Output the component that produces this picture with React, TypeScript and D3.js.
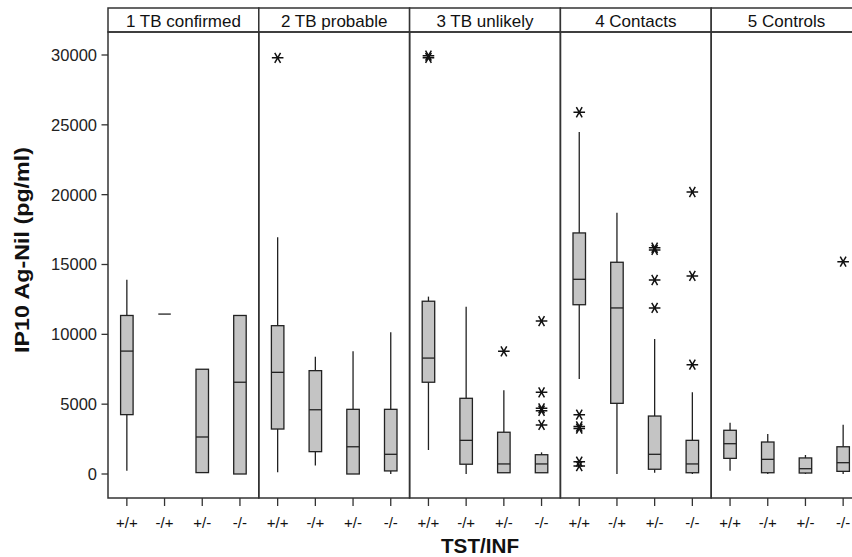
import React from "react";
import * as d3 from "d3";

const groups = ["1 TB confirmed", "2 TB probable", "3 TB unlikely", "4 Contacts", "5 Controls"];
const categories = ["+/+", "-/+", "+/-", "-/-"];
const yTicks = [0, 5000, 10000, 15000, 20000, 25000, 30000];

// per group (row) and category (column)
const whiskerLow = [
  [240, 11450, 100, 0],
  [120, 600, 0, 0],
  [1720, 0, 90, 90],
  [6800, 0, 90, 0],
  [240, 0, 0, 0],
];
const q1Values = [
  [4250, 11450, 100, 0],
  [3220, 1600, 0, 220],
  [6570, 700, 90, 90],
  [12120, 5060, 340, 90],
  [1120, 90, 70, 190],
];
const medianValues = [
  [8800, 11450, 2650, 6570],
  [7280, 4600, 1950, 1410],
  [8300, 2410, 720, 720],
  [13940, 11890, 1410, 720],
  [2170, 1050, 380, 810],
];
const q3Values = [
  [11350, 11450, 7500, 11350],
  [10620, 7400, 4630, 4630],
  [12370, 5420, 2990, 1380],
  [17260, 15160, 4150, 2410],
  [3130, 2290, 1150, 1950],
];
const whiskerHigh = [
  [13900, 11450, 7500, 11350],
  [16950, 8400, 8780, 10150],
  [12700, 11980, 5990, 1550],
  [24490, 18710, 9670, 5850],
  [3670, 2860, 1360, 3530],
];
const outliers: number[][][] = [
  [[], [], [], []],
  [[29800], [], [], []],
  [[29800, 29950], [], [8780], [10950, 5850, 4700, 4530, 3510]],
  [[25900, 4250, 3400, 3250, 880, 570], [], [16200, 16040, 13890, 11890], [20190, 14180, 7830]],
  [[], [], [], [15200]],
];

const W = 852;
const H = 557;
const LEFT = 108;
const RIGHT = 862;
const TOP = 8;
const STRIP = 32;
const BOTTOM = 498;
const FONT = "'Liberation Sans', Arial, sans-serif";

function starPath(r: number) {
  const a = Math.PI / 3;
  let d = "";
  for (let k = 0; k < 3; k++) {
    const ang = k * a;
    const dx = r * Math.cos(ang);
    const dy = r * Math.sin(ang);
    d += `M${-dx},${-dy}L${dx},${dy}`;
  }
  return d;
}

export default function App() {
  const y = d3.scaleLinear().domain([0, 30000]).range([474, 55]);
  const gx = d3.scaleBand<string>().domain(groups).range([LEFT, RIGHT]).padding(0);
  const cx = d3.scaleBand<string>().domain(categories).range([0, gx.bandwidth()]).padding(0);
  const boxW = 12.5;
  const star = starPath(5.8);

  return (
    <svg
      width={W}
      height={H}
      style={{ position: "absolute", left: 0, top: 0, background: "#fff" }}
      fontFamily={FONT}
    >
      <rect x={0} y={0} width={W} height={H} fill="#fff" />
      {/* panels */}
      {groups.map((g) => {
        const x0 = gx(g)!;
        const bw = gx.bandwidth();
        return (
          <g key={g}>
            <rect x={x0} y={TOP} width={bw} height={STRIP - TOP} fill="#fff" stroke="#333" strokeWidth={1.5} />
            <text x={x0 + bw / 2} y={26.5} textAnchor="middle" fontSize={17} fill="#111">
              {g}
            </text>
            <rect x={x0} y={STRIP} width={bw} height={BOTTOM - STRIP} fill="none" stroke="#333" strokeWidth={1.5} />
          </g>
        );
      })}
      {/* y axis */}
      {yTicks.map((t) => (
        <g key={t}>
          <line x1={101.5} x2={LEFT} y1={y(t)} y2={y(t)} stroke="#333" strokeWidth={1.3} />
          <text x={97} y={y(t)} dy="0.36em" textAnchor="end" fontSize={16.5} fill="#222">
            {t}
          </text>
        </g>
      ))}
      <text
        transform={`translate(29,250) rotate(-90)`}
        textAnchor="middle"
        fontSize={20}
        fontWeight="bold"
        textLength={206}
        lengthAdjust="spacingAndGlyphs"
        fill="#111"
      >
        IP10 Ag-Nil (pg/ml)
      </text>
      {/* x ticks */}
      {groups.map((g) =>
        categories.map((c) => {
          const xc = gx(g)! + cx(c)! + cx.bandwidth() / 2;
          return (
            <g key={g + c}>
              <line x1={xc} x2={xc} y1={BOTTOM} y2={BOTTOM + 8} stroke="#333" strokeWidth={1.3} />
              <text x={xc} y={528} textAnchor="middle" fontSize={15} fill="#111">
                {c}
              </text>
            </g>
          );
        })
      )}
      <text
        x={480}
        y={553}
        textAnchor="middle"
        fontSize={21}
        fontWeight="bold"
        textLength={78}
        lengthAdjust="spacingAndGlyphs"
        fill="#111"
      >
        TST/INF
      </text>
      {/* boxes */}
      {groups.map((g, gi) =>
        categories.map((c, ci) => {
          const xc = gx(g)! + cx(c)! + cx.bandwidth() / 2;
          const lo = whiskerLow[gi][ci];
          const hi = whiskerHigh[gi][ci];
          const q1 = q1Values[gi][ci];
          const q3 = q3Values[gi][ci];
          const med = medianValues[gi][ci];
          return (
            <g key={"b" + g + c}>
              <line x1={xc} x2={xc} y1={y(q3)} y2={y(hi)} stroke="#222" strokeWidth={1.3} />
              <line x1={xc} x2={xc} y1={y(q1)} y2={y(lo)} stroke="#222" strokeWidth={1.3} />
              <rect
                x={xc - boxW / 2}
                y={y(q3)}
                width={boxW}
                height={Math.max(0, y(q1) - y(q3))}
                fill="#c4c4c4"
                stroke="#222"
                strokeWidth={1.3}
              />
              <line x1={xc - boxW / 2} x2={xc + boxW / 2} y1={y(med)} y2={y(med)} stroke="#222" strokeWidth={1.3} />
              {outliers[gi][ci].map((o, oi) => (
                <path
                  key={oi}
                  d={star}
                  transform={`translate(${xc},${y(o)})`}
                  stroke="#111"
                  strokeWidth={1.5}
                  fill="none"
                />
              ))}
            </g>
          );
        })
      )}
    </svg>
  );
}
